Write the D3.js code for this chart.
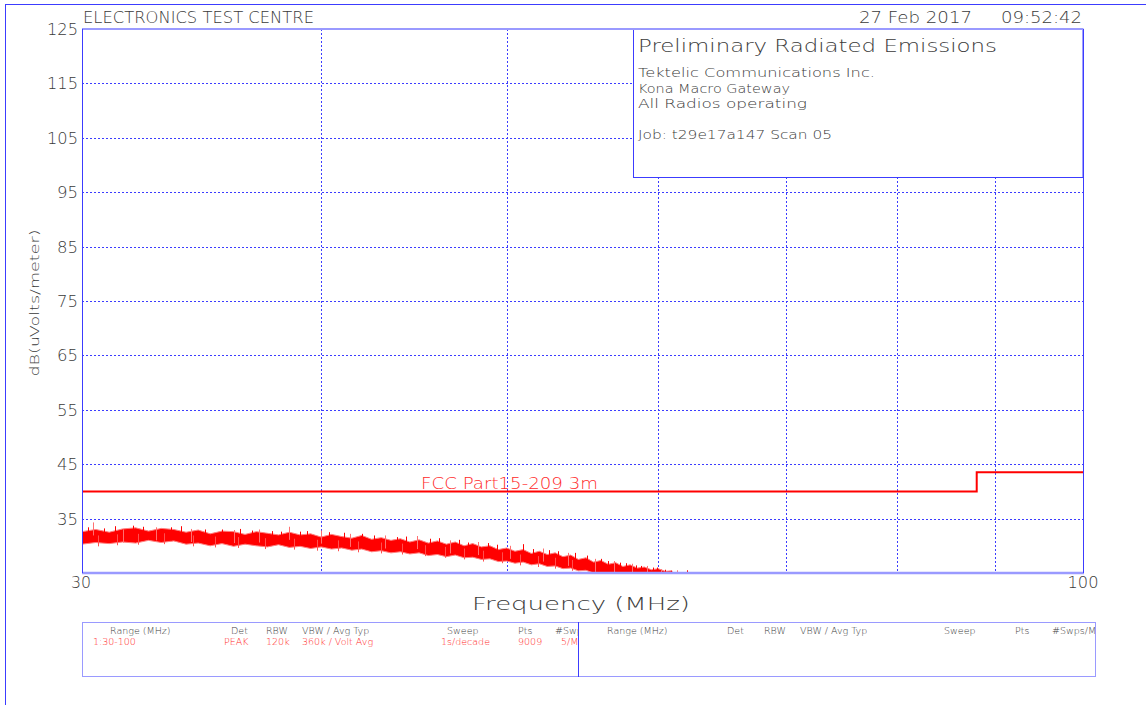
<!DOCTYPE html>
<html>
<head>
<meta charset="utf-8">
<script src="https://cdn.jsdelivr.net/npm/d3@7"></script>
<style>
  html, body { margin: 0; padding: 0; background: #fff; }
  svg { display: block; }
  text { font-family: "DejaVu Sans", sans-serif; font-weight: 200; fill: #3a3a3a; }
  .red { fill: #ff2a2a; }
</style>
</head>
<body>
<svg id="chart" width="1146" height="705"></svg>
<script>
// ---- data ----
const Y_TICKS = [125, 115, 105, 95, 85, 75, 65, 55, 45, 35];
const X_GRID = [40, 50, 60, 70, 80, 90];
const X_LABELS = [30, 100];

// limit line: FCC Part15-209 3m
const LIMIT_FREQ = [30, 88, 88, 100];
const LIMIT_DB = [40, 40, 43.5, 43.5];

// measured trace, upper / lower envelope of the peak sweep (dBuV/m)
const NOISE_FREQ = [30, 30.5, 31, 31.5, 32, 32.5, 33, 33.5, 34, 34.5, 35, 35.5, 36, 36.5, 37, 37.5,
  38, 38.5, 39, 39.5, 40, 40.5, 41, 41.5, 42, 42.5, 43, 43.5, 44, 44.5, 45, 45.5, 46, 46.5, 47, 47.5,
  48, 48.5, 49, 49.5, 50, 50.5, 51, 51.5, 52, 52.5, 53, 53.5, 54, 54.5, 55, 55.5, 56, 56.5, 57, 57.5,
  58, 58.5, 59, 59.5, 60, 60.5, 61];
const NOISE_HI = [32.6, 33.0, 32.5, 33.1, 33.3, 32.7, 33.2, 33.0, 32.5, 32.9, 32.2, 32.7, 32.6, 32.1, 32.6, 32.3,
  32.0, 32.5, 32.0, 32.2, 31.6, 32.1, 31.7, 31.4, 31.9, 31.2, 31.5, 31.0, 31.3, 30.7, 31.1, 30.5, 30.9, 30.3, 30.7, 30.0,
  30.4, 29.8, 30.0, 29.3, 29.6, 29.0, 29.3, 28.6, 29.0, 28.4, 28.7, 28.0, 28.3, 27.5, 27.8, 27.0, 27.3, 26.6, 26.9, 26.2,
  26.5, 25.9, 26.1, 25.6, 25.8, 25.3, 25.4];
const NOISE_LO = [30.3, 30.6, 30.4, 30.7, 30.5, 31.0, 30.6, 30.9, 30.3, 30.5, 30.0, 30.4, 29.9, 30.3, 30.0, 29.8,
  30.2, 29.7, 29.9, 29.5, 29.8, 29.4, 29.6, 29.2, 29.4, 28.9, 29.1, 28.7, 28.9, 28.5, 28.7, 28.2, 28.4, 28.0, 28.3, 27.8,
  27.9, 27.5, 27.6, 27.1, 27.2, 26.8, 27.0, 26.5, 26.7, 26.2, 26.3, 25.8, 25.9, 25.4, 25.5, 25.0, 24.9, 24.6, 24.5, 24.3,
  24.2, 24.1, 24.0, 24.0, 24.0, 24.0, 24.0];

// single peaks sticking out above the band
const SPIKE_FREQ = [30.2, 30.4, 30.8, 31.2, 31.5, 31.9, 32.3, 32.8, 33.4, 33.8, 34.2, 34.8, 35.5, 36.0, 36.3, 36.8,
  37.1, 37.7, 38.1, 38.5, 39.0, 39.3, 40.0, 40.4, 41.1, 41.4, 42.0, 42.6, 43.2, 43.8, 44.3, 44.9, 45.6, 46.1, 46.7,
  47.2, 47.7, 48.3, 48.9, 49.4, 50.2, 51.0, 51.6, 52.2, 52.6, 53.2, 53.8, 54.3, 55.1, 55.6, 56.0, 56.5, 56.9, 57.3,
  57.7, 58.1, 58.4, 58.8, 59.2, 59.6, 59.9, 60.2, 60.5, 60.9, 61.4, 62.1];
const SPIKE_DB = [33.4, 34.3, 33.2, 33.6, 33.0, 33.7, 33.5, 33.4, 33.4, 33.6, 33.1, 33.0, 33.0, 32.9, 33.1, 32.8,
  33.0, 32.7, 32.6, 33.5, 32.6, 32.7, 32.8, 32.5, 32.4, 32.2, 32.2, 31.9, 31.9, 31.6, 31.7, 31.8, 31.3, 31.4, 31.0,
  31.1, 30.6, 30.7, 30.5, 30.2, 30.0, 30.3, 29.4, 29.5, 29.2, 29.0, 28.7, 28.7, 28.2, 27.6, 27.6, 27.2, 27.2, 26.9,
  26.8, 26.7, 26.4, 26.3, 26.3, 26.0, 26.0, 25.7, 25.6, 25.4, 25.5, 25.5];

// single dips reaching below the band
const DIP_FREQ = [30.6, 31.3, 32.1, 33.1, 34.3, 35.2, 36.2, 37.4, 38.7, 39.8, 40.8, 41.8, 43.0, 44.1, 45.3, 46.4,
  47.5, 48.6, 49.7, 50.8, 51.9, 53.0, 54.1];
const DIP_DB = [29.9, 30.1, 30.2, 30.3, 29.9, 29.7, 29.6, 29.4, 29.3, 29.1, 29.0, 28.8, 28.6, 28.4, 28.1, 27.8,
  27.5, 27.1, 26.8, 26.4, 26.1, 25.8, 25.4];

const HEADER_LEFT = 'ELECTRONICS TEST CENTRE';
const HEADER_DATE = '27 Feb 2017';
const HEADER_TIME = '09:52:42';
const LEGEND_TITLE = 'Preliminary Radiated Emissions';
const LEGEND_LINES = ['Tektelic Communications Inc.', 'Kona Macro Gateway', 'All Radios operating', '', 'Job: t29e17a147 Scan 05'];
const LIMIT_LABEL = 'FCC Part15-209 3m';

// scan table, as far as each box shows it (the last column runs off the box)
const TABLE_HEAD_1 = ['Range (MHz)', 'Det', 'RBW', 'VBW / Avg Typ', 'Sweep', 'Pts', '#Swp'];
const TABLE_ROW_1 = ['1:30-100', 'PEAK', '120k', '360k / Volt Avg', '1s/decade', '9009', '5/M'];
const TABLE_HEAD_2 = ['Range (MHz)', 'Det', 'RBW', 'VBW / Avg Typ', 'Sweep', 'Pts', '#Swps/M'];

// ---- layout ----
const W = 1146, H = 705;
const M = { left: 82, top: 29, right: 1083, bottom: 573 };
const BLUE = '#3c3cff';
const BLUE_LIGHT = '#9a9aff';
const RED = '#ff0000';

const svg = d3.select('#chart');

const x = d3.scaleLog().domain([30, 100]).range([M.left, M.right]);
const y = d3.scaleLinear().domain([25, 125]).range([M.bottom, M.top]);

// outer frame
svg.append('line').attr('x1', 5).attr('x2', W).attr('y1', 4.5).attr('y2', 4.5)
  .attr('stroke', BLUE).attr('stroke-width', 1);
svg.append('line').attr('x1', 5.5).attr('x2', 5.5).attr('y1', 4).attr('y2', H)
  .attr('stroke', BLUE).attr('stroke-width', 1);

// header texts
svg.append('text').attr('x', 83).attr('y', 23).attr('font-size', 15)
  .attr('textLength', 231).attr('lengthAdjust', 'spacingAndGlyphs').text(HEADER_LEFT);
svg.append('text').attr('x', 859).attr('y', 23).attr('font-size', 15)
  .attr('textLength', 113).attr('lengthAdjust', 'spacingAndGlyphs').text(HEADER_DATE);
svg.append('text').attr('x', 1001).attr('y', 23).attr('font-size', 15)
  .attr('textLength', 81).attr('lengthAdjust', 'spacingAndGlyphs').text(HEADER_TIME);

// grid
const grid = svg.append('g').attr('stroke', BLUE).attr('stroke-width', 1).attr('stroke-dasharray', '2,2');
grid.selectAll('line.h').data(Y_TICKS.filter(d => d < 125)).join('line')
  .attr('class', 'h')
  .attr('x1', M.left).attr('x2', M.right)
  .attr('y1', d => Math.round(y(d)) + 0.5).attr('y2', d => Math.round(y(d)) + 0.5);
grid.selectAll('line.v').data(X_GRID).join('line')
  .attr('class', 'v')
  .attr('x1', d => Math.round(x(d)) + 0.5).attr('x2', d => Math.round(x(d)) + 0.5)
  .attr('y1', M.top).attr('y2', M.bottom);

// y tick labels
svg.append('g').selectAll('text').data(Y_TICKS).join('text')
  .attr('x', 78).attr('y', d => y(d) + 6)
  .attr('text-anchor', 'end')
  .attr('font-size', 16)
  .attr('fill', '#555')
  .attr('textLength', d => String(d).length === 3 ? 31 : 21)
  .attr('lengthAdjust', 'spacingAndGlyphs')
  .text(d => d);

// y axis title
svg.append('text')
  .attr('transform', 'translate(39,303) rotate(-90)')
  .attr('text-anchor', 'middle')
  .attr('font-size', 13)
  .attr('textLength', 147).attr('lengthAdjust', 'spacingAndGlyphs')
  .text('dB(uVolts/meter)');

// x labels
svg.append('g').selectAll('text').data(X_LABELS).join('text')
  .attr('x', d => x(d) - (d === 30 ? 1 : 0)).attr('y', 588)
  .attr('text-anchor', 'middle')
  .attr('font-size', 15)
  .attr('fill', '#555')
  .attr('textLength', d => String(d).length === 3 ? 31 : 20)
  .attr('lengthAdjust', 'spacingAndGlyphs')
  .text(d => d);

svg.append('text').attr('x', 581).attr('y', 610)
  .attr('text-anchor', 'middle').attr('font-size', 18)
  .attr('textLength', 218).attr('lengthAdjust', 'spacingAndGlyphs')
  .text('Frequency (MHz)');

// clip for traces
svg.append('clipPath').attr('id', 'plotclip').append('rect')
  .attr('x', M.left).attr('y', M.top).attr('width', M.right - M.left).attr('height', M.bottom - M.top);

const traces = svg.append('g').attr('clip-path', 'url(#plotclip)');

// measured band
const band = d3.area()
  .x((d, i) => x(NOISE_FREQ[i]))
  .y0((d, i) => y(NOISE_LO[i]))
  .y1((d, i) => y(NOISE_HI[i]));
traces.append('path').datum(NOISE_FREQ)
  .attr('d', band)
  .attr('fill', RED)
  .attr('stroke', '#ff8080').attr('stroke-width', 1);

// peaks and dips
traces.append('g').selectAll('line').data(SPIKE_FREQ).join('line')
  .attr('x1', d => Math.round(x(d)) + 0.5).attr('x2', d => Math.round(x(d)) + 0.5)
  .attr('y1', (d, i) => y(SPIKE_DB[i] - 2.4))
  .attr('y2', (d, i) => y(SPIKE_DB[i]))
  .attr('stroke', (d, i) => i % 3 === 1 ? '#ff7070' : RED).attr('stroke-width', 1);
traces.append('g').selectAll('line').data(DIP_FREQ).join('line')
  .attr('x1', d => Math.round(x(d)) + 0.5).attr('x2', d => Math.round(x(d)) + 0.5)
  .attr('y1', (d, i) => y(DIP_DB[i] + 2))
  .attr('y2', (d, i) => y(DIP_DB[i]))
  .attr('stroke', '#ff5050').attr('stroke-width', 1);

// limit line
const limitPts = LIMIT_FREQ.map((f, i) => [f, LIMIT_DB[i]]);
traces.append('path').datum(limitPts)
  .attr('d', d3.line().x(d => x(d[0])).y(d => y(d[1])))
  .attr('fill', 'none').attr('stroke', RED).attr('stroke-width', 2);

svg.append('text').attr('class', 'red').attr('x', 421).attr('y', 489)
  .attr('font-size', 15)
  .attr('textLength', 177).attr('lengthAdjust', 'spacingAndGlyphs')
  .text(LIMIT_LABEL);

// legend box (covers grid)
svg.append('rect').attr('x', 633.5).attr('y', M.top).attr('width', M.right - 633.5).attr('height', 177.5 - M.top)
  .attr('fill', '#fff').attr('stroke', BLUE).attr('stroke-width', 1);
svg.append('text').attr('x', 638).attr('y', 52).attr('font-size', 18)
  .attr('textLength', 359).attr('lengthAdjust', 'spacingAndGlyphs').text(LEGEND_TITLE);
const legendWidths = [237, 152, 169, 0, 194];
LEGEND_LINES.forEach((t, i) => {
  if (!t) return;
  svg.append('text').attr('x', 638).attr('y', 77 + i * 15.5).attr('font-size', 13)
    .attr('textLength', legendWidths[i]).attr('lengthAdjust', 'spacingAndGlyphs').text(t);
});

// plot frame
svg.append('line').attr('x1', M.left).attr('x2', M.right).attr('y1', M.top).attr('y2', M.top)
  .attr('stroke', BLUE_LIGHT).attr('stroke-width', 2);
svg.append('line').attr('x1', M.left).attr('x2', M.right + 1).attr('y1', M.bottom).attr('y2', M.bottom)
  .attr('stroke', BLUE_LIGHT).attr('stroke-width', 2.5);
svg.append('line').attr('x1', M.left + 0.5).attr('x2', M.left + 0.5).attr('y1', M.top).attr('y2', M.bottom)
  .attr('stroke', BLUE).attr('stroke-width', 1);
svg.append('line').attr('x1', M.right + 0.5).attr('x2', M.right + 0.5).attr('y1', M.top).attr('y2', M.bottom)
  .attr('stroke', BLUE).attr('stroke-width', 1);

// scan settings table: two boxes, text clipped at each box edge
const boxes = [
  { x0: 82, x1: 578, head: TABLE_HEAD_1, cols: [110, 231, 266, 302, 447, 518, 555], row: TABLE_ROW_1, rowCols: [93, 224, 266, 302, 441, 518, 561] },
  { x0: 578, x1: 1095, head: TABLE_HEAD_2, cols: [607, 727, 764, 800, 944, 1015, 1052], row: null },
];
boxes.forEach((b, bi) => {
  const id = 'tclip' + bi;
  svg.append('clipPath').attr('id', id).append('rect')
    .attr('x', b.x0 + 1).attr('y', 622).attr('width', b.x1 - b.x0 - 1).attr('height', 55);
  const g = svg.append('g').attr('clip-path', `url(#${id})`);
  g.selectAll('text.h').data(b.head).join('text')
    .attr('class', 'h').attr('x', (d, i) => b.cols[i]).attr('y', 634)
    .attr('font-size', 9.5).text(d => d);
  if (b.row) {
    g.selectAll('text.r').data(b.row).join('text')
      .attr('class', 'r red').attr('x', (d, i) => b.rowCols[i]).attr('y', 645)
      .attr('font-size', 9.5).text(d => d);
  }
  svg.append('rect').attr('x', b.x0 + 0.5).attr('y', 622.5).attr('width', b.x1 - b.x0).attr('height', 54)
    .attr('fill', 'none').attr('stroke', BLUE_LIGHT).attr('stroke-width', 1);
});
// divider between boxes is a solid blue line
svg.append('line').attr('x1', 578.5).attr('x2', 578.5).attr('y1', 622).attr('y2', 677)
  .attr('stroke', BLUE).attr('stroke-width', 1);
</script>
</body>
</html>
